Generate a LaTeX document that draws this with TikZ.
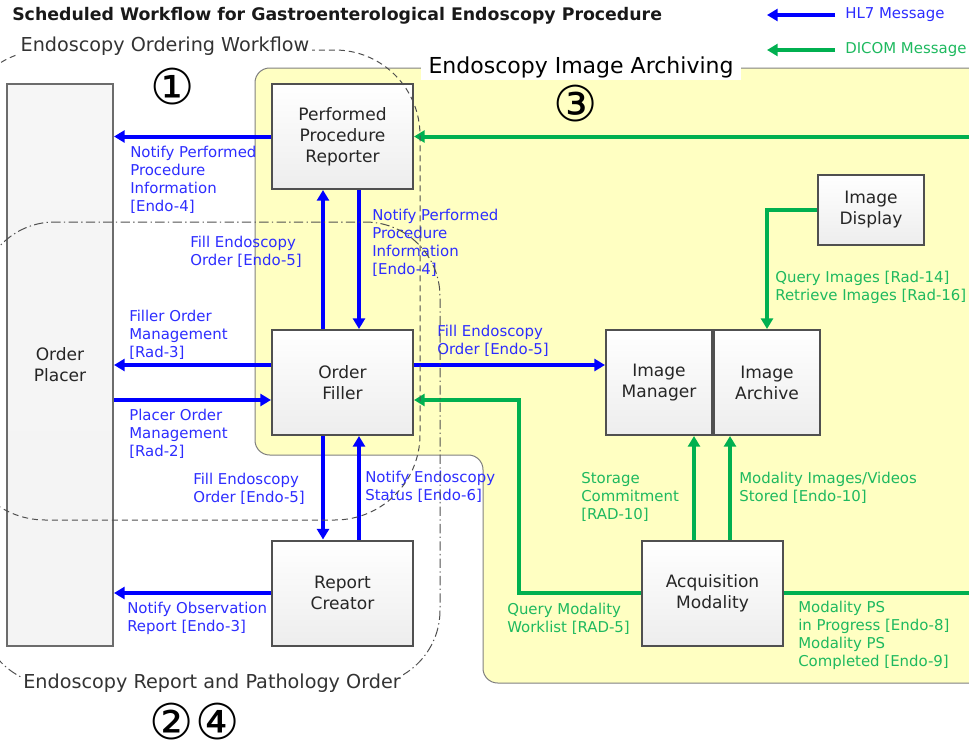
\documentclass[tikz,border=0pt]{standalone}
\usepackage{fontspec}
\setmainfont{DejaVu Sans}
\usetikzlibrary{calc,positioning,arrows.meta,shadows}
\definecolor{hlblue}{RGB}{0,0,255}
\definecolor{hltext}{RGB}{45,45,255}
\definecolor{dcgreen}{RGB}{0,176,80}
\definecolor{dctext}{RGB}{30,185,95}
\definecolor{zone}{RGB}{255,255,194}
\definecolor{edge}{RGB}{80,80,80}
\tikzset{
  >={Triangle[length=8pt,width=9pt]},
  actor/.style={
    rectangle,
    top color=white,
    bottom color=gray!14,
    draw=edge, line width=1.5pt,
    text=black!85,
    align=center,
    font=\fontsize{12.8}{15.75}\selectfont,
    minimum width=105.75pt,
    minimum height=78.75pt,
    inner sep=2pt,
    drop shadow={shadow xshift=1pt, shadow yshift=-1pt, opacity=0.25}},
  narrow/.style={minimum width=79.5pt},
  hlseven/.style={draw=hlblue, line width=3pt, ->},
  dicom/.style={draw=dcgreen, line width=3pt, ->},
  msg/.style={anchor=north west, align=left, inner sep=0pt,
    font=\fontsize{11.2}{13.5}\selectfont},
  hlmsg/.style={msg, text=hltext},
  dcmsg/.style={msg, text=dctext},
  zonetitle/.style={fill=white, inner sep=2pt, text=black!80,
    font=\fontsize{14.4}{17}\selectfont},
  orderzone/.style={draw=edge, line width=0.75pt, dash pattern=on 4.5pt off 3pt},
  reportzone/.style={draw=edge, line width=0.75pt,
    dash pattern=on 7pt off 2.5pt on 1pt off 2.5pt},
  stage/.style={inner sep=0pt, font=\fontsize{37}{37}\selectfont},
}

\begin{document}
\begin{tikzpicture}[x=0.75pt, y=-0.75pt]
  \useasboundingbox (0,0) rectangle (969,746);
  % image archiving area
  \path[fill=zone, draw=gray, line width=0.75pt, rounded corners=11pt]
    (995,68) -- (255,68) -- (255,455) -- (483,455) -- (483,683)
    -- (995,683) -- cycle;

  % actors
  \node[actor, narrow, minimum height=421.5pt, top color=gray!7,
    bottom color=gray!9, draw=gray!85!black] (placer) at (60,365) {Order\\Placer};
  \node[actor] (ppr) at (342.5,136.5) {Performed\\Procedure\\Reporter};
  \node[actor] (filler) at (342.5,382.5) {Order\\Filler};
  \node[actor] (creator) at (342.5,593) {Report\\Creator};
  \node[actor, narrow] (manager) at (659,382.5) {Image\\Manager};
  \node[actor, narrow, right=0pt of manager] (archive) {Image\\Archive};
  \node[actor, narrow, minimum height=52.5pt] (display) at (871,210) {Image\\Display};
  \node[actor] (acq) at (712.5,593) {Acquisition\\Modality};

  % HL7 messages
  \coordinate (fup) at ($(filler.north)+(-19.5,0)$);
  \coordinate (pdn) at ($(ppr.south)+(16.5,0)$);
  \coordinate (fout) at ($(filler.west)+(0,-17.5)$);
  \coordinate (pin) at ($(filler.west)+(0,17.5)$);
  \coordinate (fdn) at ($(filler.south)+(-19.5,0)$);
  \coordinate (cup) at ($(creator.north)+(16.5,0)$);
  \coordinate (fim) at ($(filler.east)+(0,-17.5)$);
  \draw[hlseven] (ppr.west) -- (ppr.west -| placer.east);
  \draw[hlseven] (fup) -- (fup |- ppr.south);
  \draw[hlseven] (pdn) -- (pdn |- filler.north);
  \draw[hlseven] (fout) -- (fout -| placer.east);
  \draw[hlseven] (pin -| placer.east) -- (pin);
  \draw[hlseven] (fdn) -- (fdn |- creator.north);
  \draw[hlseven] (cup) -- (cup |- filler.south);
  \draw[hlseven] (creator.west) -- (creator.west -| placer.east);
  \draw[hlseven] (fim) -- (fim -| manager.west);

  % DICOM messages
  \coordinate (sc) at ($(acq.north)+(-18.5,0)$);
  \coordinate (ms) at ($(acq.north)+(17.5,0)$);
  \coordinate (mwl) at ($(filler.east)+(0,17.5)$);
  \draw[dicom] (acq.east) -- ++(220,0) |- (ppr.east);
  \draw[dicom] (display.west) -| (archive.north);
  \draw[dicom] (sc) -- (sc |- manager.south);
  \draw[dicom] (ms) -- (ms |- archive.south);
  \draw[dicom] (acq.west) -| ($(mwl)+(105,0)$) -- (mwl);

  % message labels
  \node[hlmsg] (m1) at (130,146) {Notify Performed\\Procedure\\Information\\{}[Endo-4]};
  \node[hlmsg] (m2) at (190,236) {Fill Endoscopy\\Order [Endo-5]};
  \node[hlmsg] (m3) at (372,209) {Notify Performed\\Procedure\\Information\\{}[Endo-4]};
  \node[hlmsg] (m4) at (129,310) {Filler Order\\Management\\{}[Rad-3]};
  \node[hlmsg] (m5) at (129,409) {Placer Order\\Management\\{}[Rad-2]};
  \node[hlmsg] (m6) at (193,473) {Fill Endoscopy\\Order [Endo-5]};
  \node[hlmsg] (m7) at (365,471) {Notify Endoscopy\\Status [Endo-6]};
  \node[hlmsg] (m8) at (127,602) {Notify Observation\\Report [Endo-3]};
  \node[hlmsg] (m9) at (437,325) {Fill Endoscopy\\Order [Endo-5]};
  \node[dcmsg] (d1) at (775,271) {Query Images [Rad-14]\\Retrieve Images [Rad-16]};
  \node[dcmsg] (d2) at (581,472) {Storage\\Commitment\\{}[RAD-10]};
  \node[dcmsg] (d3) at (739,472) {Modality Images/Videos\\Stored [Endo-10]};
  \node[dcmsg] (d4) at (507,603) {Query Modality\\Worklist [RAD-5]};
  \node[dcmsg] (d5) at (798,601) {Modality PS\\in Progress [Endo-8]\\Modality PS\\Completed [Endo-9]};

  % workflow outlines
  \draw[orderzone, rounded corners=64pt] (-40,50) rectangle (420,520);
  \draw[reportzone, rounded corners=56pt] (-20,222) rectangle (440,685);
  \node[zonetitle] (ordertitle) at (165,46) {Endoscopy Ordering Workflow};
  \node[zonetitle, text=black, inner xsep=6pt,
    font=\fontsize{16.5}{18}\selectfont] (archtitle) at (581,67) {Endoscopy Image Archiving};
  \node[zonetitle] (reporttitle) at (212,683) {Endoscopy Report and Pathology Order};
  \node[stage] (s1) at (173,87) {①};
  \node[stage] (s3) at (576,104) {③};
  \node[stage] (s2) at (172,722) {②};
  \node[stage] (s4) at (218,722) {④};

  % title and legend
  \node[anchor=west, inner sep=0pt, text=black!90,
    font=\bfseries\fontsize{13}{15}\selectfont] (title) at (12,16)
    {Scheduled Workflow for Gastroenterological Endoscopy Procedure};
  \node[hlmsg, anchor=west] (hlkey) at (845,15) {HL7 Message};
  \node[dcmsg, anchor=west] (dckey) at (845,50) {DICOM Message};
  \coordinate (hlkeyend) at (767,15);
  \coordinate (dckeyend) at (767,50);
  \draw[hlseven] ([xshift=-7.5pt]hlkey.west) -- (hlkeyend);
  \draw[dicom] ([xshift=-7.5pt]dckey.west) -- (dckeyend);
\end{tikzpicture}
\end{document}
